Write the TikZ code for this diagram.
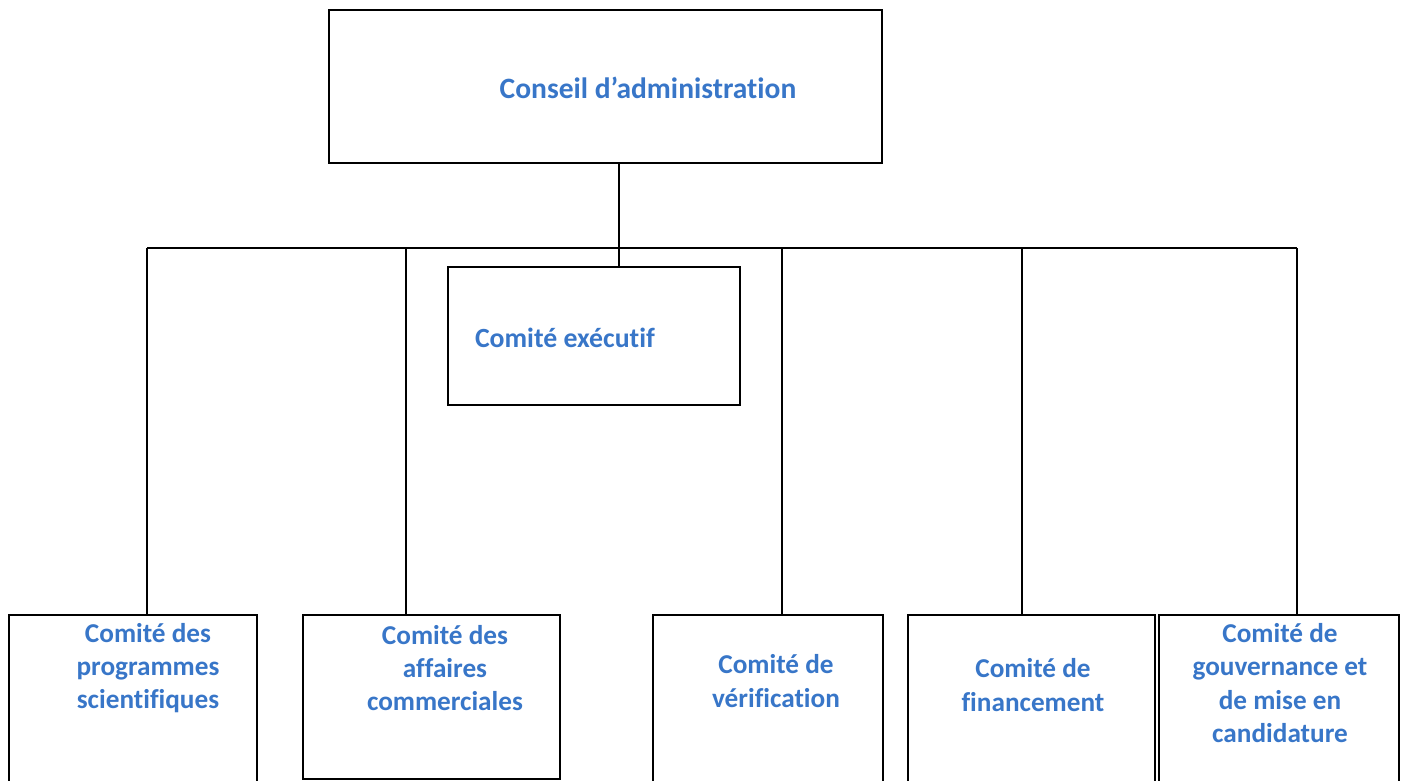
\documentclass[tikz,border=0pt]{standalone}
\usepackage{fontspec}
\setmainfont{Carlito}[Ligatures=NoCommon]
\usetikzlibrary{positioning,fit}
\definecolor{bleuca}{RGB}{56,118,200}
\tikzset{%
  boite/.style = {rectangle,draw,solid,line width=1pt,inner sep=0pt},
  titre/.style = {text=bleuca,font=\fontsize{15.5}{19}\selectfont\bfseries,
        align=center,inner sep=0pt},
  trait/.style = {line width=1pt}
}
\begin{document}
\begin{tikzpicture}[x=0.02cm,y=-0.02cm]
\clip (0,0) rectangle (1407,781);
% boites
\node[boite,fit={(329,10) (882,163)}] (ca) {};
\node[boite,fit={(448,267) (740,405)}] (ce) {};
\node[boite,fit={(9,615) (257,800)}] (c1) {};
\node[boite,fit={(303,615) (560,779)}] (c2) {};
\node[boite,fit={(653,615) (883,800)}] (c3) {};
\node[boite,fit={(908,615) (1155,800)}] (c4) {};
\node[boite,fit={(1159,615) (1399,800)}] (c5) {};
% textes
\node[titre,font=\fontsize{16.8}{20}\selectfont\bfseries] (tca) at (648,88) {Conseil d’administration};
\node[titre,font=\fontsize{15.8}{19}\selectfont\bfseries] (tce) at (565,338) {Comité exécutif};
\node[titre] (t1) at (148,668) {Comité des\\programmes\\scientifiques};
\node[titre] (t2) at (445,668) {Comité des\\affaires\\commerciales};
\node[titre] (t3) at (776,681) {Comité de\\vérification};
\node[titre] (t4) at (1033,685) {Comité de\\financement};
\node[titre] (t5) at (1280,683) {Comité de\\gouvernance et\\de mise en\\candidature};
% liaisons
\coordinate (m) at (619,248);
\coordinate (g) at (147,248);
\coordinate (d) at (1297,248);
\draw[trait] (m |- ca.south) -- (m |- ce.north);
\draw[trait] (g) -- (d);
\foreach \x/\n in {147/c1,406/c2,782/c3,1022/c4,1297/c5}
    \draw[trait] (\x,248) -- (\x,248 |- \n.north);
\end{tikzpicture}
\end{document}
